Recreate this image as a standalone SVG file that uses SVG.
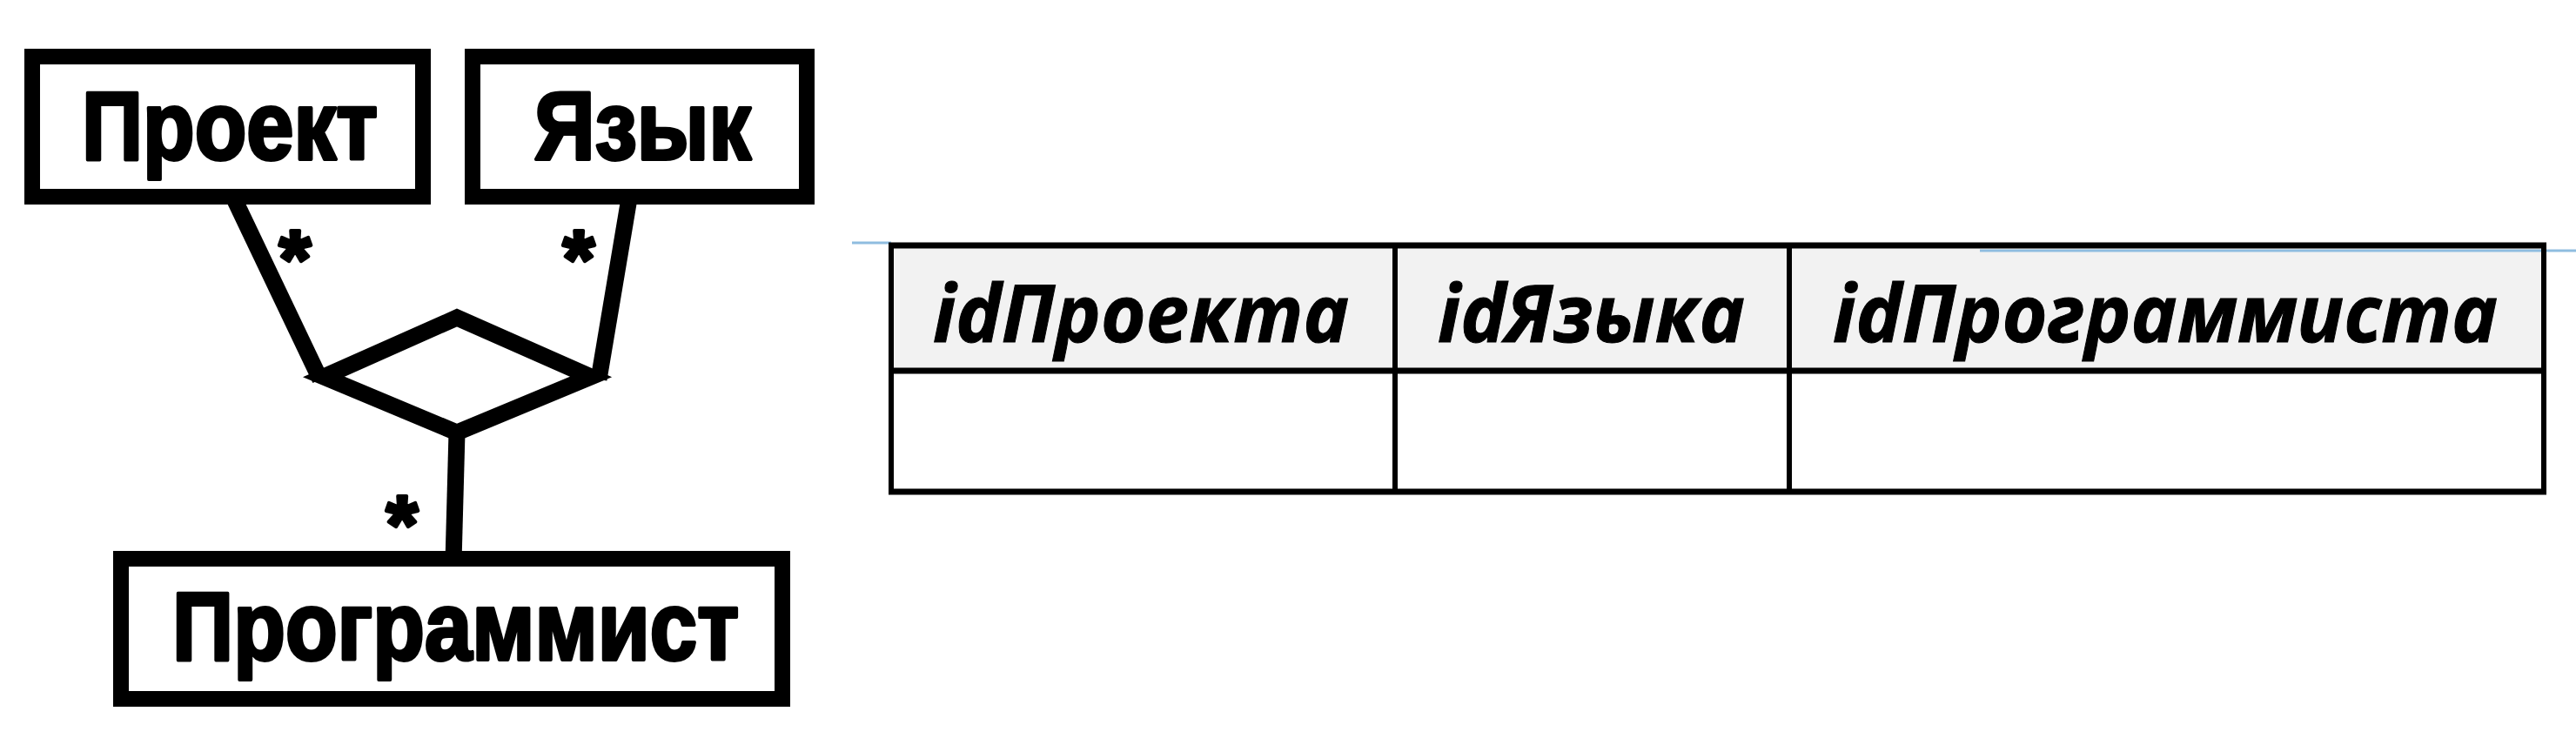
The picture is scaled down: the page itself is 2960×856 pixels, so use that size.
<svg xmlns="http://www.w3.org/2000/svg" width="2960" height="856" viewBox="0 0 2960 856">
  <style>
    .box { fill: #ffffff; stroke: #000000; stroke-width: 18; }
    .lbl { font-family: "Liberation Sans", Arial, sans-serif; font-weight: bold; fill: #000000; stroke: #000000; stroke-width: 4; stroke-linejoin: round; }
    .conn { stroke: #000000; stroke-width: 19; fill: none; stroke-linecap: butt; }
    .star { font-family: "Liberation Sans", Arial, sans-serif; font-weight: bold; font-size: 95px; fill: #000000; stroke: #000000; stroke-width: 4; stroke-linejoin: round; text-anchor: middle; }
    .th { font-family: "Open Sans", "Noto Sans", sans-serif; font-weight: bold; font-style: italic; font-size: 91px; fill: #000000; stroke: #000000; stroke-width: 1; }
    .hline { stroke: #000000; stroke-width: 7; }
    .vline { stroke: #000000; stroke-width: 6; }
    .blue { stroke: #8fbde0; stroke-width: 3; }
  </style>
  <rect width="2960" height="856" fill="#ffffff"/>

  <g id="connectors">
    <line class="conn" x1="266" y1="222" x2="368" y2="436"/>
    <line class="conn" x1="724" y1="222" x2="688" y2="436"/>
    <line class="conn" x1="525" y1="497" x2="521" y2="646"/>
    <text class="star" x="339" y="330">*</text>
    <text class="star" x="665" y="330">*</text>
    <text class="star" x="462" y="635">*</text>
  </g>

  <g id="proekt">
    <rect class="box" x="37" y="65" width="449" height="161"/>
    <text class="lbl" x="94" y="183" font-size="112" textLength="340" lengthAdjust="spacingAndGlyphs">Проект</text>
  </g>

  <g id="yazyk">
    <rect class="box" x="543" y="65" width="384" height="161"/>
    <text class="lbl" x="614" y="183" font-size="112" textLength="249" lengthAdjust="spacingAndGlyphs">Язык</text>
  </g>

  <g id="relation">
    <polygon points="372,433 525,365 679,433 525,497" fill="#ffffff" stroke="#000000" stroke-width="19" stroke-linejoin="miter" stroke-miterlimit="10"/>
  </g>

  <g id="programmist">
    <rect class="box" x="139" y="642" width="760" height="161"/>
    <text class="lbl" x="198" y="758" font-size="111" textLength="651" lengthAdjust="spacingAndGlyphs">Программист</text>
  </g>

  <g id="table">
    <line class="blue" x1="979" y1="279" x2="1024" y2="279"/>
    <rect x="1024" y="282" width="1899" height="144" fill="#f2f2f2"/>
    <line class="blue" x1="2275" y1="288" x2="2960" y2="288"/>
    <line class="hline" x1="1021" y1="282" x2="2926" y2="282"/>
    <line class="hline" x1="1021" y1="426" x2="2926" y2="426"/>
    <line class="hline" x1="1021" y1="565" x2="2926" y2="565"/>
    <line class="vline" x1="1024" y1="279" x2="1024" y2="568"/>
    <line class="vline" x1="1603" y1="279" x2="1603" y2="568"/>
    <line class="vline" x1="2056" y1="279" x2="2056" y2="568"/>
    <line class="vline" x1="2923" y1="279" x2="2923" y2="568"/>
    <text class="th" x="1072" y="393" textLength="478" lengthAdjust="spacingAndGlyphs">idПроекта</text>
    <text class="th" x="1652" y="393" textLength="353" lengthAdjust="spacingAndGlyphs">idЯзыка</text>
    <text class="th" x="2106" y="393" textLength="764" lengthAdjust="spacingAndGlyphs">idПрограммиста</text>
  </g>
</svg>
